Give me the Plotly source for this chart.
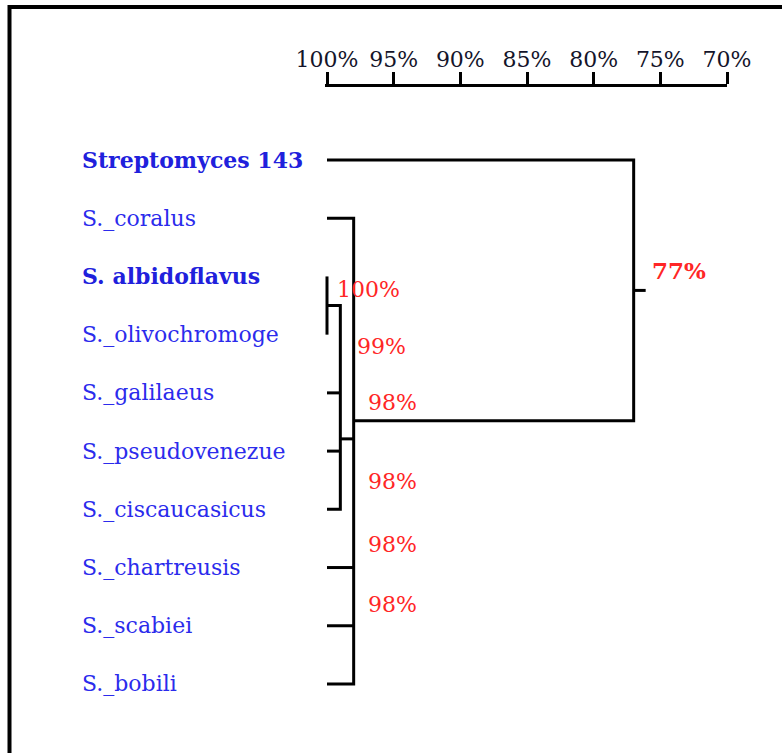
import plotly.graph_objects as go

# ---- data -------------------------------------------------------------
leaf_names = [
    "Streptomyces 143", "S._coralus", "S. albidoflavus", "S._olivochromoge",
    "S._galilaeus", "S._pseudovenezue", "S._ciscaucasicus", "S._chartreusis",
    "S._scabiei", "S._bobili",
]
leaf_bold = [True, False, True, False, False, False, False, False, False, False]

# clusters: similarity (%) at which the members join, and their members
# (ints = leaf rows, strings = other clusters)
cluster_names = ["A", "B", "C", "R"]
cluster_similarity = [100, 99, 98, 77]
cluster_members = [[2, 3], ["A", 4, 5, 6], [1, "B", 7, 8, 9], [0, "C"]]
# row where a cluster's branch leaves it (None = midway through its span)
cluster_exit_row = [None, 4.79, 4.48, None]

# similarity labels printed beside the nodes
node_labels = ["100%", "99%", "98%", "98%", "98%", "98%", "77%"]
node_label_bold = [False, False, False, False, False, False, True]

scale_values = [100, 95, 90, 85, 80, 75, 70]
scale_text = ["100%", "95%", "90%", "85%", "80%", "75%", "70%"]

# ---- layout constants -------------------------------------------------
W, H = 782, 753
PLOT_L, PLOT_R, PLOT_T, PLOT_B = 325, 727, 87, 753
ROW0_PX, ROW_STEP = 160, 58.22
row_top = -(ROW0_PX - PLOT_T) / ROW_STEP
row_bottom = (PLOT_B - ROW0_PX) / ROW_STEP
X_PAD = 0.15  # a little room so the 100% bracket is not clipped

label_pos = [(99.4, 2.22), (97.9, 3.21), (97.08, 4.17), (97.08, 5.53),
             (97.08, 6.61), (97.08, 7.63), (75.78, 1.89)]
root_stub = 0.9

LEAF_BLUE = "#2b2bec"
LEAF_BLUE_BOLD = "#2020dc"
RED = "#ff2626"
FONT = "DejaVu Serif"


def px_to_paper_x(px):
    return (px - PLOT_L) / (PLOT_R - PLOT_L)


def px_to_paper_y(py):
    return 1 - (py - PLOT_T) / (PLOT_B - PLOT_T)


# ---- build the tree segments -----------------------------------------
info = {}  # name -> (similarity, exit row)
xs, ys = [], []
for name, sim, members, exit_row in zip(cluster_names, cluster_similarity,
                                        cluster_members, cluster_exit_row):
    kids = []
    for m in members:
        if isinstance(m, str):
            kids.append((info[m][0], info[m][1]))
        else:
            kids.append((100, m))
    kids.sort(key=lambda k: k[1])
    lo, hi = kids[0], kids[-1]
    # outer bracket as one path
    xs += [lo[0], sim, sim, hi[0], None]
    ys += [lo[1], lo[1], hi[1], hi[1], None]
    for kx, kr in kids[1:-1]:
        xs += [kx, sim, None]
        ys += [kr, kr, None]
    if exit_row is None:
        exit_row = (lo[1] + hi[1]) / 2
    info[name] = (sim, exit_row)

# short stub off the root
root_sim, root_row = info["R"]
xs += [root_sim, root_sim - root_stub, None]
ys += [root_row, root_row, None]

fig = go.Figure()
fig.add_trace(go.Scatter(
    x=xs, y=ys, mode="lines", cliponaxis=False,
    line=dict(color="black", width=3), hoverinfo="skip", showlegend=False,
))

annotations = []
for i, (name, bold) in enumerate(zip(leaf_names, leaf_bold)):
    annotations.append(dict(
        x=px_to_paper_x(80), xref="paper", y=i, yref="y",
        xanchor="left", yanchor="middle", showarrow=False,
        text=f"<b>{name}</b>" if bold else name,
        font=dict(family=FONT, size=22,
                  color=LEAF_BLUE_BOLD if bold else LEAF_BLUE),
    ))
for txt, bold, (lx, ly) in zip(node_labels, node_label_bold, label_pos):
    annotations.append(dict(
        x=lx, y=ly, xref="x", yref="y", xanchor="left", yanchor="middle",
        showarrow=False, text=f"<b>{txt}</b>" if bold else txt,
        font=dict(family=FONT, size=23 if bold else 22, color=RED),
    ))

# frame lines along the top and left of the page
shapes = [
    dict(type="line", xref="paper", yref="paper",
         x0=px_to_paper_x(9.5), x1=px_to_paper_x(W + 5),
         y0=px_to_paper_y(7), y1=px_to_paper_y(7),
         line=dict(color="black", width=4)),
    dict(type="line", xref="paper", yref="paper",
         x0=px_to_paper_x(9.5), x1=px_to_paper_x(9.5),
         y0=px_to_paper_y(5), y1=px_to_paper_y(H + 5),
         line=dict(color="black", width=4)),
]

fig.update_layout(
    width=W, height=H,
    margin=dict(l=PLOT_L, r=W - PLOT_R, t=PLOT_T, b=H - PLOT_B, pad=0),
    paper_bgcolor="white", plot_bgcolor="white",
    annotations=annotations, shapes=shapes,
    xaxis=dict(
        range=[100 + X_PAD, 70], side="top", tickmode="array",
        tickvals=scale_values, ticktext=scale_text,
        ticks="outside", ticklen=12, tickwidth=3, tickcolor="black",
        showline=True, linewidth=3, linecolor="black",
        showgrid=False, zeroline=False, fixedrange=True,
        ticklabelstandoff=-4,
        tickfont=dict(family=FONT, size=22, color="#14142a"),
    ),
    yaxis=dict(range=[row_bottom, row_top], visible=False, fixedrange=True),
)

fig.write_html("out.html")
